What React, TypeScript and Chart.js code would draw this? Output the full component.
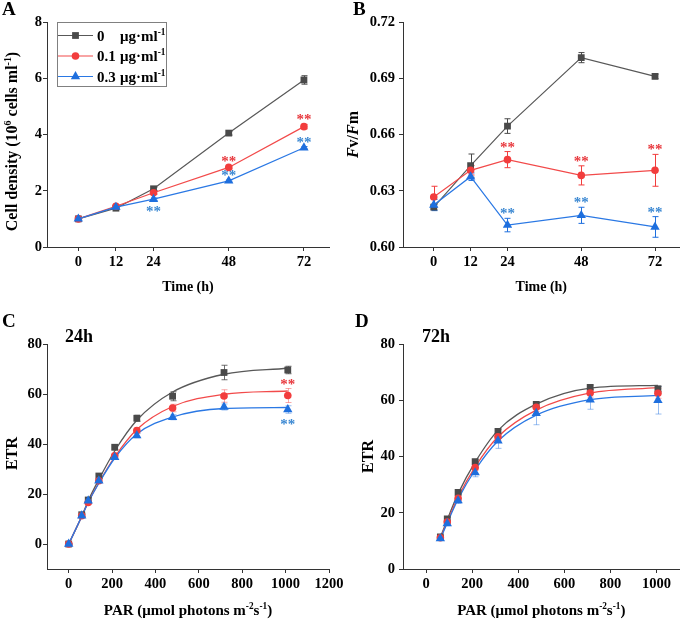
import React, { useEffect, useRef } from 'react';
import { Chart, registerables } from 'chart.js';
Chart.register(...registerables);

const FONT = '"Liberation Serif", "Times New Roman", serif';

// ---------------- data ----------------
const SERIES_LABELS = ['0', '0.1', '0.3'];
const UNIT_LABEL = 'μg·ml';

const TIME_H = [0, 12, 24, 48, 72];

const DENSITY_CTRL = [1.0, 1.38, 2.07, 4.05, 5.94];
const DENSITY_01 = [1.0, 1.45, 1.93, 2.83, 4.28];
const DENSITY_03 = [1.0, 1.42, 1.7, 2.35, 3.53];
const DENSITY_ERR_CTRL = [0.04, 0.05, 0.06, 0.07, 0.15];
const DENSITY_ERR_01 = [0.03, 0.04, 0.05, 0.05, 0.08];
const DENSITY_ERR_03 = [0.03, 0.04, 0.04, 0.04, 0.04];

const FVFM_CTRL = [0.6213, 0.6434, 0.6645, 0.701, 0.691];
const FVFM_01 = [0.6267, 0.6409, 0.6466, 0.6382, 0.6409];
const FVFM_03 = [0.6224, 0.6375, 0.6117, 0.6169, 0.6107];
const FVFM_ERR_CTRL = [0.0015, 0.0062, 0.0039, 0.0027, 0.0012];
const FVFM_ERR_01 = [0.0057, 0.0025, 0.0043, 0.0051, 0.0085];
const FVFM_ERR_03 = [0.003, 0.002, 0.0036, 0.0043, 0.0055];

const PAR_24H = [0, 60, 90, 139, 212, 314, 479, 716, 1010];
const ETR24_CTRL = [0, 11.7, 17.6, 27.2, 38.7, 50.3, 59.1, 68.6, 69.6];
const ETR24_01 = [0, 11.3, 16.6, 25.3, 35.3, 45.4, 54.4, 59.2, 59.4];
const ETR24_03 = [0, 11.3, 17.3, 25.3, 34.7, 43.4, 50.7, 54.8, 53.8];
const ETR24_ERR_CTRL = [0.3, 0.6, 0.8, 1.0, 1.0, 1.2, 1.8, 2.9, 1.5];
const ETR24_ERR_01 = [0.3, 0.5, 0.6, 0.8, 0.9, 1.0, 1.5, 2.5, 2.8];
const ETR24_ERR_03 = [0.3, 0.5, 0.6, 0.8, 0.8, 0.9, 1.0, 1.2, 1.5];
const ETR24_FIT_CTRL = [0, 11.0, 17.3, 25.8, 37.2, 49.5, 60.8, 67.9, 70.3];
const ETR24_FIT_01 = [0, 11.0, 16.6, 24.5, 34.8, 45.8, 55.0, 59.9, 61.2];
const ETR24_FIT_03 = [0, 11.0, 16.6, 24.3, 34.3, 44.0, 50.8, 54.2, 54.6];

const PAR_72H = [62, 92, 139, 213, 312, 478, 712, 1006];
const ETR72_CTRL = [11.4, 17.8, 27.2, 38.2, 48.9, 58.5, 64.6, 64.0];
const ETR72_01 = [11.1, 16.7, 25.1, 36.1, 47.0, 57.5, 62.6, 62.5];
const ETR72_03 = [10.8, 16.2, 24.3, 34.3, 45.6, 55.4, 60.2, 60.0];
const ETR72_ERR_CTRL = [0.5, 0.5, 0.6, 0.7, 0.8, 0.8, 0.8, 1.0];
const ETR72_ERR_01 = [0.5, 0.6, 0.8, 1.0, 1.2, 1.5, 1.5, 1.8];
const ETR72_ERR_03 = [0.6, 0.8, 1.0, 1.5, 2.7, 4.1, 3.4, 4.9];
const ETR72_FIT_CTRL = [11.3, 17.5, 26.8, 38.0, 49.3, 58.6, 64.3, 65.3];
const ETR72_FIT_01 = [10.9, 16.8, 25.5, 36.3, 47.0, 56.5, 62.6, 64.5];
const ETR72_FIT_03 = [10.7, 16.4, 24.8, 35.2, 45.5, 54.7, 60.2, 61.7];

// significance marks: [series index, point index, placement]
const SIG_A: [number, number, 'above' | 'below'][] = [[1, 3, 'above'], [1, 4, 'above'], [2, 2, 'below'], [2, 3, 'above'], [2, 4, 'above']];
const SIG_B: [number, number, 'above' | 'below'][] = [[1, 2, 'above'], [1, 3, 'above'], [1, 4, 'above'], [2, 2, 'above'], [2, 3, 'above'], [2, 4, 'above']];
const SIG_C: [number, number, 'above' | 'below'][] = [[1, 8, 'above'], [2, 8, 'below']];
const SIG_D: [number, number, 'above' | 'below'][] = [];

const TICKS_TIME = [0, 12, 24, 48, 72];
const TICKS_DENSITY = [0, 2, 4, 6, 8];
const TICKS_FVFM = [0.6, 0.63, 0.66, 0.69, 0.72];
const TICKS_PAR_C = [0, 200, 400, 600, 800, 1000, 1200];
const TICKS_PAR_D = [0, 200, 400, 600, 800, 1000];
const TICKS_ETR = [0, 20, 40, 60, 80];

// ---------------- styles ----------------
const MARKER_COLORS = ['#4a4a4a', '#f23d3d', '#1e6fde'];
const LINE_COLORS = ['#585858', '#f24a4a', '#2a78e4'];
const STAR_COLORS = ['#4a4a4a', '#e8383d', '#3b88d2'];
const STYLES = ['rect', 'circle', 'triangle'];
const RADII = [4.8, 3.8, 5.4];

type Seg = { t: string; sup?: boolean; it?: boolean };

function segFont(size: number, s: Seg) {
  const sz = s.sup ? size * 0.62 : size;
  return `${s.it ? 'italic ' : ''}bold ${sz}px ${FONT}`;
}
function richWidth(ctx: CanvasRenderingContext2D, segs: Seg[], size: number) {
  let w = 0;
  for (const s of segs) {
    ctx.font = segFont(size, s);
    w += ctx.measureText(s.t).width;
  }
  return w;
}
function drawRich(ctx: CanvasRenderingContext2D, segs: Seg[], cx: number, baseline: number, size: number) {
  const w = richWidth(ctx, segs, size);
  let x = cx - w / 2;
  ctx.textAlign = 'left';
  ctx.textBaseline = 'alphabetic';
  for (const s of segs) {
    ctx.font = segFont(size, s);
    ctx.fillText(s.t, x, s.sup ? baseline - size * 0.4 : baseline);
    x += ctx.measureText(s.t).width;
  }
}
function drawMarker(ctx: CanvasRenderingContext2D, style: string, x: number, y: number, r: number, color: string) {
  ctx.fillStyle = color;
  ctx.beginPath();
  if (style === 'rect') {
    const h = r * Math.SQRT1_2;
    ctx.rect(x - h, y - h, 2 * h, 2 * h);
  } else if (style === 'circle') {
    ctx.arc(x, y, r, 0, Math.PI * 2);
  } else {
    ctx.moveTo(x, y - r);
    ctx.lineTo(x + r * 0.866, y + r / 2);
    ctx.lineTo(x - r * 0.866, y + r / 2);
    ctx.closePath();
  }
  ctx.fill();
}

interface PanelDef {
  letter: string;
  letterX: number;
  letterY: number;
  subtitle?: string;
  subX?: number;
  xs: number[];
  series: number[][];
  errs: number[][];
  fits?: number[][];
  sig: [number, number, 'above' | 'below'][];
  xMin: number; xMax: number; xTicks: number[];
  yMin: number; yMax: number; yTicks: number[]; yDigits: number;
  xTitle: Seg[]; yTitle: Seg[]; xTitleSize: number; yTitleSize: number;
  xTitleDy: number; yTitleDx: number; yTitleDy: number;
  legend: boolean;
  pos: { left: number; top: number; w: number; h: number };
  pad: { top: number; right: number };
  yW: number; xH: number; yPad: number;
  errAlpha: number;
}

const X_TIME: Seg[] = [{ t: 'Time (h)' }];
const X_PAR: Seg[] = [{ t: 'PAR (μmol photons m' }, { t: '-2', sup: true }, { t: 's' }, { t: '-1', sup: true }, { t: ')' }];

const PANELS: PanelDef[] = [
  {
    letter: 'A', letterX: 2, letterY: 15,
    xs: TIME_H, series: [DENSITY_CTRL, DENSITY_01, DENSITY_03], errs: [DENSITY_ERR_CTRL, DENSITY_ERR_01, DENSITY_ERR_03],
    sig: SIG_A, xMin: -10, xMax: 80, xTicks: TICKS_TIME, yMin: 0, yMax: 8, yTicks: TICKS_DENSITY, yDigits: 0,
    xTitle: X_TIME, yTitle: [{ t: 'Cell density (10' }, { t: '6', sup: true }, { t: ' cells ml' }, { t: '-1', sup: true }, { t: ')' }],
    xTitleSize: 14, yTitleSize: 16, xTitleDy: 44, yTitleDx: -35, yTitleDy: 7, legend: true,
    pos: { left: 0, top: 0, w: 340, h: 310 }, pad: { top: 22, right: 11 }, yW: 47, xH: 63, yPad: 1, errAlpha: 1,
  },
  {
    letter: 'B', letterX: 13, letterY: 15,
    xs: TIME_H, series: [FVFM_CTRL, FVFM_01, FVFM_03], errs: [FVFM_ERR_CTRL, FVFM_ERR_01, FVFM_ERR_03],
    sig: SIG_B, xMin: -10, xMax: 80, xTicks: TICKS_TIME, yMin: 0.6, yMax: 0.72, yTicks: TICKS_FVFM, yDigits: 2,
    xTitle: X_TIME, yTitle: [{ t: 'F', it: true }, { t: 'v/' }, { t: 'F', it: true }, { t: 'm' }],
    xTitleSize: 14, yTitleSize: 16, xTitleDy: 44, yTitleDx: -50, yTitleDy: 0, legend: false,
    pos: { left: 340, top: 0, w: 345, h: 310 }, pad: { top: 22, right: 2 }, yW: 63, xH: 63, yPad: 4, errAlpha: 1,
  },
  {
    letter: 'C', letterX: 2, letterY: 17, subtitle: '24h', subX: 65,
    xs: PAR_24H, series: [ETR24_CTRL, ETR24_01, ETR24_03], errs: [ETR24_ERR_CTRL, ETR24_ERR_01, ETR24_ERR_03],
    fits: [ETR24_FIT_CTRL, ETR24_FIT_01, ETR24_FIT_03],
    sig: SIG_C, xMin: -100, xMax: 1200, xTicks: TICKS_PAR_C, yMin: -10, yMax: 80, yTicks: TICKS_ETR, yDigits: 0,
    xTitle: X_PAR, yTitle: [{ t: 'ETR' }],
    xTitleSize: 15, yTitleSize: 16, xTitleDy: 46, yTitleDx: -35.5, yTitleDy: -3, legend: false,
    pos: { left: 0, top: 310, w: 360, h: 309 }, pad: { top: 34, right: 31 }, yW: 47, xH: 50, yPad: 1, errAlpha: 0.45,
  },
  {
    letter: 'D', letterX: 15, letterY: 17, subtitle: '72h', subX: 82,
    xs: PAR_72H, series: [ETR72_CTRL, ETR72_01, ETR72_03], errs: [ETR72_ERR_CTRL, ETR72_ERR_01, ETR72_ERR_03],
    fits: [ETR72_FIT_CTRL, ETR72_FIT_01, ETR72_FIT_03],
    sig: SIG_D, xMin: -100, xMax: 1100, xTicks: TICKS_PAR_D, yMin: 0, yMax: 80, yTicks: TICKS_ETR, yDigits: 0,
    xTitle: X_PAR, yTitle: [{ t: 'ETR' }],
    xTitleSize: 15, yTitleSize: 16, xTitleDy: 46, yTitleDx: -35, yTitleDy: 0, legend: false,
    pos: { left: 340, top: 310, w: 345, h: 309 }, pad: { top: 34, right: 2 }, yW: 63, xH: 50, yPad: 4, errAlpha: 0.45,
  },
];

function panelPlugin(p: PanelDef) {
  return {
    id: 'panel' + p.letter,
    beforeDatasetsDraw(chart: any) {
      const ctx: CanvasRenderingContext2D = chart.ctx;
      const xs = chart.scales.x, ys = chart.scales.y;
      p.series.forEach((vals, s) => {
        ctx.save();
        ctx.strokeStyle = MARKER_COLORS[s];
        ctx.globalAlpha = s === 0 ? Math.max(p.errAlpha, 0.8) : p.errAlpha;
        ctx.lineWidth = 1;
        vals.forEach((v, i) => {
          const e = p.errs[s][i];
          const px = Math.round(xs.getPixelForValue(p.xs[i])) + 0.5;
          const y1 = ys.getPixelForValue(v + e), y2 = ys.getPixelForValue(v - e);
          ctx.beginPath();
          ctx.moveTo(px, y1); ctx.lineTo(px, y2);
          ctx.moveTo(px - 3, y1); ctx.lineTo(px + 3, y1);
          ctx.moveTo(px - 3, y2); ctx.lineTo(px + 3, y2);
          ctx.stroke();
        });
        ctx.restore();
      });
    },
    afterDraw(chart: any) {
      const ctx: CanvasRenderingContext2D = chart.ctx;
      const a = chart.chartArea;
      const xs = chart.scales.x, ys = chart.scales.y;
      ctx.save();
      ctx.fillStyle = '#000';
      // panel letter
      ctx.font = `bold 19px ${FONT}`;
      ctx.textAlign = 'left';
      ctx.textBaseline = 'alphabetic';
      ctx.fillText(p.letter, p.letterX, p.letterY);
      if (p.subtitle) {
        ctx.font = `bold 18px ${FONT}`;
        ctx.fillText(p.subtitle, p.subX!, 32);
      }
      // axis titles
      drawRich(ctx, p.xTitle, (a.left + a.right) / 2, a.bottom + p.xTitleDy, p.xTitleSize);
      ctx.save();
      ctx.translate(a.left + p.yTitleDx + p.yTitleSize * 0.34, (a.top + a.bottom) / 2 + p.yTitleDy);
      ctx.rotate(-Math.PI / 2);
      drawRich(ctx, p.yTitle, 0, 0, p.yTitleSize);
      ctx.restore();
      // significance stars
      p.sig.forEach(([s, i, where]) => {
        const v = p.series[s][i], e = p.errs[s][i];
        const px = xs.getPixelForValue(p.xs[i]);
        const cy = where === 'above' ? ys.getPixelForValue(v + e) - 7.5 : ys.getPixelForValue(v - e) + 8.5;
        ctx.font = `bold 15px ${FONT}`;
        ctx.fillStyle = STAR_COLORS[s];
        ctx.textAlign = 'center';
        ctx.textBaseline = 'alphabetic';
        ctx.fillText('**', px, cy + 7.5);
      });
      // legend
      if (p.legend) {
        const L = a.left + 10, T = a.top;
        ctx.strokeStyle = '#808080';
        ctx.lineWidth = 1;
        ctx.strokeRect(L + 0.5, T + 0.5, 109, 64);
        SERIES_LABELS.forEach((lab, s) => {
          const y = T + 13.5 + s * 20.5;
          ctx.strokeStyle = LINE_COLORS[s];
          ctx.lineWidth = 1.2;
          ctx.beginPath();
          ctx.moveTo(L + 1, y); ctx.lineTo(L + 36, y);
          ctx.stroke();
          drawMarker(ctx, STYLES[s], L + 18.5, y, RADII[s], MARKER_COLORS[s]);
          ctx.fillStyle = '#000';
          ctx.font = `bold 15px ${FONT}`;
          ctx.textAlign = 'left';
          ctx.fillText(lab, L + 40, y + 5);
          ctx.fillStyle = '#000';
          const segs: Seg[] = [{ t: UNIT_LABEL }, { t: '-1', sup: true }];
          const w = richWidth(ctx, segs, 15);
          drawRich(ctx, segs, L + 63 + w / 2, y + 5, 15);
        });
      }
      ctx.restore();
    },
  };
}

function buildChart(canvas: HTMLCanvasElement, p: PanelDef) {
  const datasets: any[] = [];
  p.series.forEach((vals, s) => {
    datasets.push({
      label: SERIES_LABELS[s],
      data: p.xs.map((x, i) => ({ x, y: vals[i] })),
      showLine: !p.fits,
      borderColor: LINE_COLORS[s],
      borderWidth: 1.2,
      backgroundColor: MARKER_COLORS[s],
      pointStyle: STYLES[s],
      pointRadius: RADII[s],
      pointBackgroundColor: MARKER_COLORS[s],
      pointBorderColor: MARKER_COLORS[s],
      pointBorderWidth: 0,
      tension: 0,
      fill: false,
      order: 2 - s,
    });
    if (p.fits) {
      datasets.push({
        label: SERIES_LABELS[s] + ' fit',
        data: p.xs.map((x, i) => ({ x, y: p.fits![s][i] })),
        showLine: true,
        borderColor: LINE_COLORS[s],
        borderWidth: 1.3,
        pointRadius: 0,
        cubicInterpolationMode: 'monotone',
        fill: false,
        order: 12 - s,
      });
    }
  });
  const axisCommon = {
    type: 'linear' as const,
    grid: { display: true, drawOnChartArea: false, drawTicks: true, tickLength: 4, color: '#333', lineWidth: 1 },
    border: { display: true, color: '#333', width: 1 },
  };
  return new Chart(canvas, {
    type: 'line',
    data: { datasets },
    options: {
      animation: false,
      responsive: false,
      devicePixelRatio: 1,
      events: [],
      layout: { padding: { top: p.pad.top, right: p.pad.right, left: 0, bottom: 0 } },
      plugins: { legend: { display: false }, tooltip: { enabled: false } },
      scales: {
        x: {
          ...axisCommon,
          min: p.xMin,
          max: p.xMax,
          afterBuildTicks: (sc: any) => { sc.ticks = p.xTicks.map((v) => ({ value: v })); },
          afterFit: (sc: any) => { sc.height = p.xH; },
          ticks: { color: '#000', font: { family: FONT, size: 14.5, weight: 'bold' }, padding: 3, maxRotation: 0, autoSkip: false, callback: (v: any) => String(v) },
        },
        y: {
          ...axisCommon,
          min: p.yMin,
          max: p.yMax,
          afterBuildTicks: (sc: any) => { sc.ticks = p.yTicks.map((v) => ({ value: v })); },
          afterFit: (sc: any) => { sc.width = p.yW; },
          ticks: { color: '#000', font: { family: FONT, size: 14.5, weight: 'bold' }, padding: p.yPad, autoSkip: false, callback: (v: any) => Number(v).toFixed(p.yDigits) },
        },
      },
    } as any,
    plugins: [panelPlugin(p)],
  });
}

export default function App() {
  const refs = useRef<(HTMLCanvasElement | null)[]>([]);
  useEffect(() => {
    const charts = PANELS.map((p, i) => buildChart(refs.current[i]!, p));
    return () => charts.forEach((c) => c.destroy());
  }, []);
  return (
    <div style={{ position: 'absolute', left: 0, top: 0, width: 685, height: 619, background: '#fff', overflow: 'hidden' }}>
      {PANELS.map((p, i) => (
        <canvas
          key={p.letter}
          ref={(el) => { refs.current[i] = el; }}
          width={p.pos.w}
          height={p.pos.h}
          style={{ position: 'absolute', left: p.pos.left, top: p.pos.top, width: p.pos.w, height: p.pos.h }}
        />
      ))}
    </div>
  );
}
